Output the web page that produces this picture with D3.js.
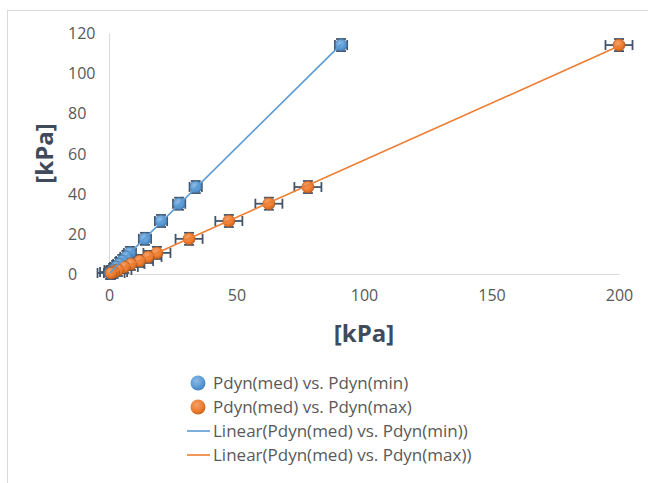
<!DOCTYPE html>
<html>
<head>
<meta charset="utf-8">
<script src="https://cdn.jsdelivr.net/npm/d3@7"></script>
<style>
  html, body { margin: 0; padding: 0; background: #fff; }
  svg { display: block; }
</style>
</head>
<body>
<svg id="chart" width="648" height="483"></svg>
<script>
// Dynamic pressure readings (kPa): median vs. minimum and maximum
const pdynMed = [114, 43.3, 35, 26.4, 17.5, 10.5, 8.5, 6.5, 5, 3.5, 2, 1, 0.5];
const pdynMin = [91, 34, 27.5, 20.4, 14.1, 8.2, 6.8, 5.2, 4, 2.8, 1.6, 0.8, 0.4];
const pdynMax = [200, 78, 62.7, 47, 31.4, 18.8, 15.3, 12, 8.6, 6, 3.5, 1.8, 0.8];

// Error bar half-widths (kPa)
const errMinX = 2.4;
const errMaxX = 5.3;
const errY = 3;

const xTicks = [0, 50, 100, 150, 200];
const yTicks = [0, 20, 40, 60, 80, 100, 120];

const legendLabels = [
  "Pdyn(med) vs. Pdyn(min)",
  "Pdyn(med) vs. Pdyn(max)",
  "Linear(Pdyn(med) vs. Pdyn(min))",
  "Linear(Pdyn(med) vs. Pdyn(max))"
];

const blue = "#5b9bd5", orange = "#ed7d31";
const font = "'Open Sans', sans-serif";

const svg = d3.select("#chart");
const x = d3.scaleLinear().domain([0, 200]).range([109, 619]);
const y = d3.scaleLinear().domain([0, 120]).range([274, 33]);

// gradients for markers
const defs = svg.append("defs");
function grad(id, light, mid, dark) {
  const g = defs.append("radialGradient").attr("id", id)
    .attr("cx", "40%").attr("cy", "35%").attr("r", "70%");
  g.append("stop").attr("offset", "0%").attr("stop-color", light);
  g.append("stop").attr("offset", "60%").attr("stop-color", mid);
  g.append("stop").attr("offset", "100%").attr("stop-color", dark);
}
grad("gBlue", "#8fbbe6", "#5b9bd5", "#3f7fbf");
grad("gOrange", "#f5a06a", "#ed7d31", "#c9601a");

// chart frame
svg.append("rect").attr("x", 7.5).attr("y", 10.5).attr("width", 700).attr("height", 600)
  .attr("fill", "none").attr("stroke", "#d9d9d9");

// axes
const xAxis = d3.axisBottom(x).tickValues(xTicks).tickSize(0).tickPadding(16);
const gx = svg.append("g").attr("transform", `translate(0,${y(0)})`).call(xAxis);
gx.select(".domain").attr("stroke", "#d9d9d9");
gx.selectAll("text").attr("font-family", font).attr("font-size", 16).attr("fill", "#595959");

const yAxis = d3.axisLeft(y).tickValues(yTicks).tickSize(0).tickPadding(0);
const gy = svg.append("g").attr("transform", `translate(${x(0)},0)`).call(yAxis);
gy.select(".domain").attr("stroke", "#d9d9d9");
gy.selectAll("text").attr("font-family", font).attr("font-size", 16).attr("fill", "#595959")
  .attr("text-anchor", "start").attr("x", 68 - x(0)).attr("dy", "0.35em");

// axis titles
svg.append("text").attr("x", (x(0) + x(200)) / 2).attr("y", 342)
  .attr("text-anchor", "middle").attr("font-family", font).attr("font-weight", "bold")
  .attr("font-size", 24).attr("fill", "#404a5a").text("[kPa]");
svg.append("text").attr("transform", `translate(53,${(y(0) + y(120)) / 2}) rotate(-90)`)
  .attr("text-anchor", "middle").attr("font-family", font).attr("font-weight", "bold")
  .attr("font-size", 24).attr("fill", "#404a5a").text("[kPa]");

const seriesA = pdynMed.map((m, i) => ({ x: pdynMin[i], y: m, ex: errMinX }));
const seriesB = pdynMed.map((m, i) => ({ x: pdynMax[i], y: m, ex: errMaxX }));

const errColor = "#44546a";
const cap = 5;
function errorBars(data) {
  const g = svg.append("g").attr("stroke", errColor).attr("stroke-width", 1.8).attr("fill", "none");
  data.forEach(d => {
    const cx = x(d.x), cy = y(d.y);
    const x0 = x(d.x - d.ex), x1 = x(d.x + d.ex);
    const y0 = y(d.y - errY), y1 = y(d.y + errY);
    g.append("line").attr("x1", x0).attr("x2", x1).attr("y1", cy).attr("y2", cy);
    g.append("line").attr("x1", x0).attr("x2", x0).attr("y1", cy - cap).attr("y2", cy + cap);
    g.append("line").attr("x1", x1).attr("x2", x1).attr("y1", cy - cap).attr("y2", cy + cap);
    g.append("line").attr("x1", cx).attr("x2", cx).attr("y1", y0).attr("y2", y1);
    g.append("line").attr("x1", cx - cap).attr("x2", cx + cap).attr("y1", y0).attr("y2", y0);
    g.append("line").attr("x1", cx - cap).attr("x2", cx + cap).attr("y1", y1).attr("y2", y1);
  });
}
errorBars(seriesA);
errorBars(seriesB);

function markers(data, fillId, stroke) {
  svg.append("g").selectAll("circle").data(data).join("circle")
    .attr("cx", d => x(d.x)).attr("cy", d => y(d.y)).attr("r", 6)
    .attr("fill", `url(#${fillId})`).attr("stroke", stroke).attr("stroke-width", 0.8);
}
markers(seriesA, "gBlue", "#41719c");
markers(seriesB, "gOrange", "#ae5a21");

// least-squares trend lines across each series' x range
function trend(data, color) {
  const mx = d3.mean(data, d => d.x), my = d3.mean(data, d => d.y);
  const b = d3.sum(data, d => (d.x - mx) * (d.y - my)) / d3.sum(data, d => (d.x - mx) ** 2);
  const a = my - b * mx;
  const [lo, hi] = d3.extent(data, d => d.x);
  svg.append("line")
    .attr("x1", x(lo)).attr("y1", y(a + b * lo))
    .attr("x2", x(hi)).attr("y2", y(a + b * hi))
    .attr("stroke", color).attr("stroke-width", 1.6);
}
trend(seriesA, blue);
trend(seriesB, orange);

// legend
const lg = svg.append("g");
const rows = [383, 407, 431, 455];
legendLabels.forEach((t, i) => {
  const ry = rows[i];
  if (i < 2) {
    lg.append("circle").attr("cx", 198).attr("cy", ry).attr("r", 7.5)
      .attr("fill", i === 0 ? "url(#gBlue)" : "url(#gOrange)");
  } else {
    lg.append("line").attr("x1", 187).attr("x2", 210).attr("y1", ry).attr("y2", ry)
      .attr("stroke", i === 2 ? blue : orange).attr("stroke-width", 1.6);
  }
  lg.append("text").attr("x", 213).attr("y", ry).attr("dy", "0.35em")
    .attr("font-family", font).attr("font-size", 17).attr("fill", "#595959").text(t);
});
</script>
</body>
</html>
